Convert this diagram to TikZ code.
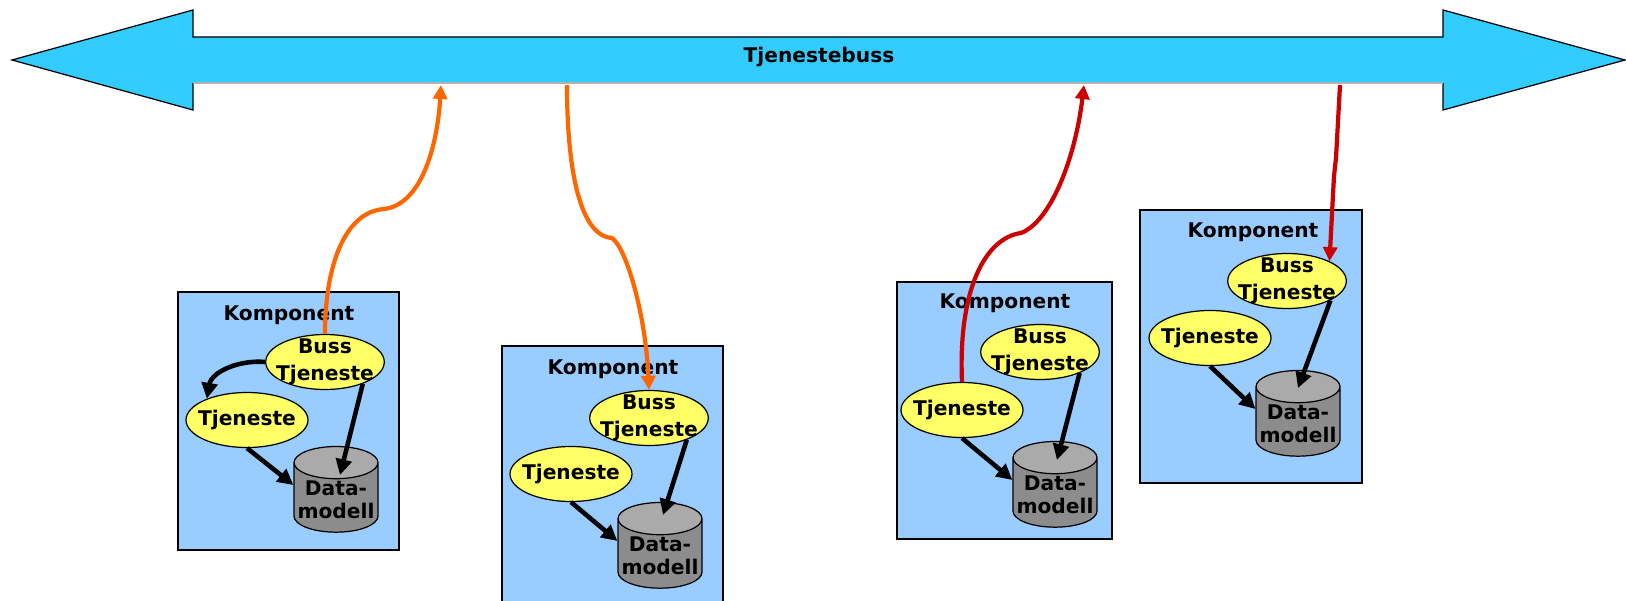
\documentclass[tikz,border=0pt]{standalone}
\usepackage{fontspec}
\setmainfont{DejaVu Sans}
\usetikzlibrary{shapes.geometric, arrows.meta, positioning, calc}
\definecolor{busblue}{RGB}{51, 204, 255}
\definecolor{kompblue}{RGB}{153, 204, 255}
\definecolor{tjenyellow}{RGB}{255, 255, 102}
\definecolor{dbgray}{RGB}{140, 140, 140}
\definecolor{dbtop}{RGB}{170, 170, 170}
\definecolor{floworange}{RGB}{255, 102, 0}
\definecolor{flowred}{RGB}{204, 0, 0}

\tikzset{
  lbl/.style={font=\bfseries\fontsize{11.5}{15.5}\selectfont, align=center},
  komp/.style={draw, fill=kompblue, line width=0.7pt, inner sep=0pt},
  tjen/.style={lbl, ellipse, draw, fill=tjenyellow, line width=0.7pt, inner xsep=-4pt, inner ysep=-3pt, minimum width=2.44cm, minimum height=1.1cm},
  buss/.style={tjen, minimum width=2.36cm},
  dbase/.style={lbl, font=\bfseries\fontsize{11.5}{13}\selectfont, cylinder, shape border rotate=90, aspect=0.4, draw, line width=0.7pt, cylinder uses custom fill, cylinder body fill=dbgray, cylinder end fill=dbtop, inner sep=1pt, minimum width=1.68cm, minimum height=1.7cm},
  intern/.style={line width=2.6pt, -{Triangle[length=9pt, width=9pt]}},
  flow/.style={line width=2.4pt, -{Triangle[length=8pt, width=8pt]}}
}

\begin{document}
\begin{tikzpicture}[x=0.02cm, y=-0.02cm]
  \useasboundingbox (0,0) rectangle (1626,601);

  % The service bus
  \fill[busblue] (12,60) -- (193,10) -- (193,37) -- (1443,37) -- (1443,10) -- (1625,60)
    -- (1443,110) -- (1443,83) -- (193,83) -- (193,110) -- cycle;
  \draw[line width=0.7pt] (193,83) -- (193,110) -- (12,60) -- (193,10) -- (193,37) -- (1443,37)
    -- (1443,10) -- (1625,60) -- (1443,110) -- (1443,83);
  \draw[gray!60, line width=0.7pt] (193,83) -- (1443,83);
  \node[lbl] (busname) at (819,57) {Tjenestebuss};
  \coordinate (bus1) at (441,85);
  \coordinate (bus2) at (567,85);
  \coordinate (bus3) at (1084,85);
  \coordinate (bus4) at (1340,85);

  % Components
  \node[komp, minimum width=4.42cm, minimum height=5.16cm] (k1) at (288.5,421) {};
  \node[komp, minimum width=4.42cm, minimum height=5.14cm] (k2) at (612.5,474.5) {};
  \node[komp, minimum width=4.30cm, minimum height=5.14cm] (k3) at (1004.5,410.5) {};
  \node[komp, minimum width=4.44cm, minimum height=5.46cm] (k4) at (1251,346.5) {};
  \node[lbl] (kl1) at (289,315) {Komponent};
  \node[lbl] (kl2) at (613,369) {Komponent};
  \node[lbl] (kl3) at (1005,303) {Komponent};
  \node[lbl] (kl4) at (1253,232) {Komponent};

  % Services and data models
  \node[buss] (b1) at (325,362) {Buss\\Tjeneste};
  \node[tjen] (t1) at (247,420) {Tjeneste};
  \node[dbase] (d1) at (336,500) {Data-\\modell};
  \node[buss] (b2) at (649,418) {Buss\\Tjeneste};
  \node[tjen] (t2) at (571,474) {Tjeneste};
  \node[dbase] (d2) at (660,556) {Data-\\modell};
  \node[buss] (b3) at (1040,352) {Buss\\Tjeneste};
  \node[tjen] (t3) at (962,410) {Tjeneste};
  \node[dbase] (d3) at (1055,495) {Data-\\modell};
  \node[buss] (b4) at (1287,281) {Buss\\Tjeneste};
  \node[tjen] (t4) at (1210,338) {Tjeneste};
  \node[dbase] (d4) at (1298,424) {Data-\\modell};

  % Internal calls
  \draw[intern] (b1.west) to[out=175, in=80] (t1.152);
  \draw[intern] (b1.-30) -- ($(d1.center)+(4,-25)$);
  \draw[intern] (t1.south) -- ($(d1.west)+(0,-15)$);
  \draw[intern] (b2.-30) -- ($(d2.center)+(3,-41)$);
  \draw[intern] (t2.south) -- ($(d2.west)+(0,-15)$);
  \draw[intern] (b3.-28) -- ($(d3.center)+(2,-35)$);
  \draw[intern] (t3.south) -- ($(d3.west)+(0,-15)$);
  \draw[intern] (b4.-24) -- ($(d4.center)+(0,-36)$);
  \draw[intern] (t4.south) -- ($(d4.west)+(0,-15)$);

  % Traffic to and from the bus
  \draw[flow, floworange] (b1.north) .. controls (325,265) and (345,212) .. (384,209)
    .. controls (420,205) and (437,150) .. (bus1);
  \draw[flow, floworange] (bus2) .. controls (567,170) and (580,236) .. (612,238)
    .. controls (628,250) and (646,320) .. (b2.north);
  \draw[flow, flowred] (t3.north) .. controls (958,290) and (985,238) .. (1021,233)
    .. controls (1050,222) and (1075,160) .. (bus3);
  \draw[flow, flowred] (bus4) -- (1336,158) .. controls (1335,166) .. (1334,176) -- (b4.25);
\end{tikzpicture}
\end{document}
